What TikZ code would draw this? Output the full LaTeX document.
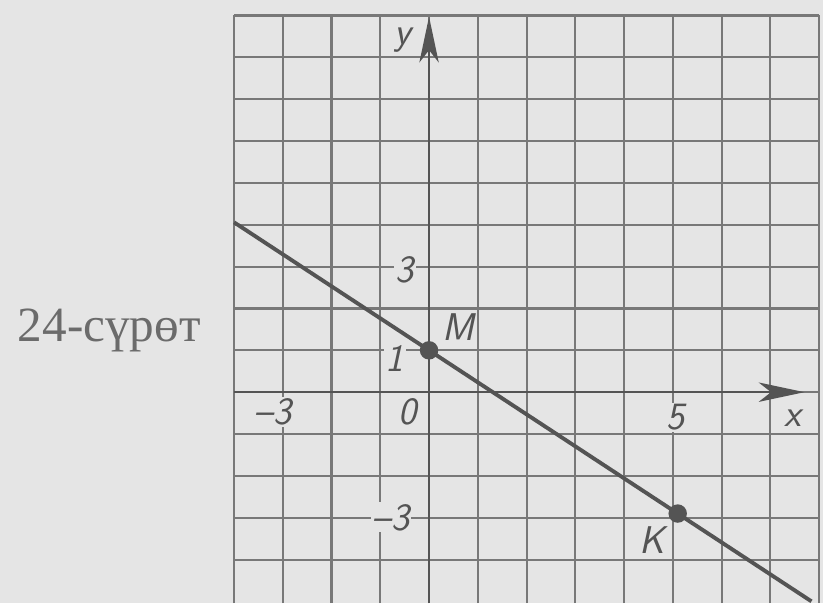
\documentclass[tikz,border=0pt]{standalone}
\usepackage{fontspec}
\newfontfamily\capfont{Liberation Serif}
\usetikzlibrary{arrows.meta, calc}
\definecolor{paper}{gray}{0.9}
\definecolor{ink}{gray}{0.33}
\definecolor{gridink}{gray}{0.47}
\definecolor{capink}{gray}{0.42}

\begin{document}
\begin{tikzpicture}[x=0.975cm, y=0.837cm, >={Stealth[length=26pt, width=11pt, inset=7pt]},
  gridline/.style={draw=gridink, line width=1.2pt},
  axis/.style={draw=ink, line width=1.5pt, ->},
  graph/.style={draw=ink, line width=2.2pt},
  dot/.style={circle, fill=ink, inner sep=0pt, minimum size=10.5pt},
  lbl/.style={text=ink, fill=paper, inner sep=1pt, font=\sffamily\slshape\fontsize{22}{24}\selectfont}]
  % Fond
  \fill[paper] (-8.8,-5.04) rectangle (8.08,9.37);
  \useasboundingbox (-8.8,-5.04) rectangle (8.08,9.37);

  % Quadrillage
  \foreach \i in {-4,...,8} \draw[gridline] (\i,-5.04) -- (\i,9);
  \foreach \j in {-4,...,9} \draw[gridline] (-4,\j) -- (8,\j);

  % Graduations
  \node[lbl] (ly)  at (-0.53,8.41) {y};
  \node[lbl] (l3)  at (-0.5,2.92)  {3};
  \node[lbl] (l1)  at (-0.7,0.8)   {1};
  \node[lbl] (l0)  at (-0.43,-0.48) {0};
  \node[lbl] (lm3) at (-3.2,-0.48) {--3};
  \node[lbl] (l5)  at (5.05,-0.6)  {5};
  \node[lbl] (lx)  at (7.47,-0.62) {x};
  \node[lbl] (lym3) at (-0.78,-2.99) {--3};
  \node[lbl] (lM)  at (0.6,1.55)   {M};
  \node[lbl] (lK)  at (4.57,-3.54) {K};

  % Axes
  \coordinate (xs) at (-4,0);
  \coordinate (xe) at (7.7,0);
  \coordinate (ys) at (0,-5.04);
  \coordinate (ye) at (0,8.97);
  \draw[axis] (xs) -- (xe);
  \draw[axis] (ys) -- (ye);

  % Droite MK
  \node[dot] (M) at (0,1) {};
  \node[dot] (K) at (5.1,-2.9) {};
  \draw[graph] ($(M)!-0.784!(K)$) -- ($(M)!1.538!(K)$);

  % Legende
  \node[text=capink, font=\capfont\fontsize{28}{30}\selectfont] (cap) at (-6.56,1.48) {24-сүрөт};
\end{tikzpicture}
\end{document}
